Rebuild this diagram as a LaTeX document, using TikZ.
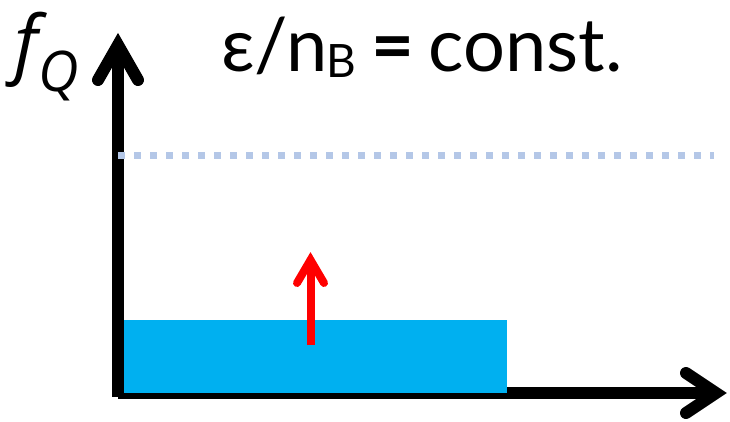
\documentclass[tikz,border=0pt]{standalone}
\usepackage{fontspec}
\setmainfont{Lato}
\newfontfamily\opensans{Open Sans}
\definecolor{barblue}{HTML}{00B0F0}
\definecolor{dotblue}{HTML}{B4C7E7}
\definecolor{arrred}{HTML}{FF0000}
\begin{document}
\begin{tikzpicture}[x={(1pt,0)},y={(0,-1pt)},
  axis/.style={line width=12pt},
  chev/.style={line width=12pt, line cap=round, line join=miter},
  lbl/.style={anchor=base west, inner sep=0pt}]
\useasboundingbox (0,0) rectangle (730,422);
% axes
\coordinate (origin) at (118,396.7);
\coordinate (ytop) at (118,45);
\coordinate (xstart) at (118,393);
\coordinate (xend) at (716,393);
\draw[axis] (origin) -- (ytop);
\draw[chev] (98,80) -- (ytop) -- (138,80);
\draw[axis] (xstart) -- (xend);
\draw[chev] (686,373) -- (xend) -- (686,413);
% bar
\fill[barblue] (124,320) rectangle (507,392.7);
% dotted level
\coordinate (d1) at (118,155.5);
\coordinate (d2) at (714,155.5);
\draw[dotblue, line width=7pt, dash pattern=on 7pt off 9pt] (d1) -- (d2);
% red arrow
\coordinate (r1) at (310.5,345);
\coordinate (r2) at (310.5,260);
\draw[arrred, line width=8pt] (r1) -- (r2);
\draw[arrred, line width=8pt, line cap=round, line join=miter] (297,283) -- (r2) -- (324,283);
% labels
\node[lbl, font=\opensans\itshape\fontsize{75}{78}\selectfont] (f) at (14,70) {f};
\node[lbl, font=\opensans\itshape\fontsize{56}{58}\selectfont] (q) at (38,92) {Q};
\node[lbl, font=\fontsize{74}{78}\selectfont] (eq) at (221,72) {ε/n\hspace{-1pt}\raisebox{-6pt}{\fontsize{46}{48}\selectfont B}\hspace{-4pt} \textbf{=} \hspace{-4pt}const.};
\end{tikzpicture}
\end{document}
